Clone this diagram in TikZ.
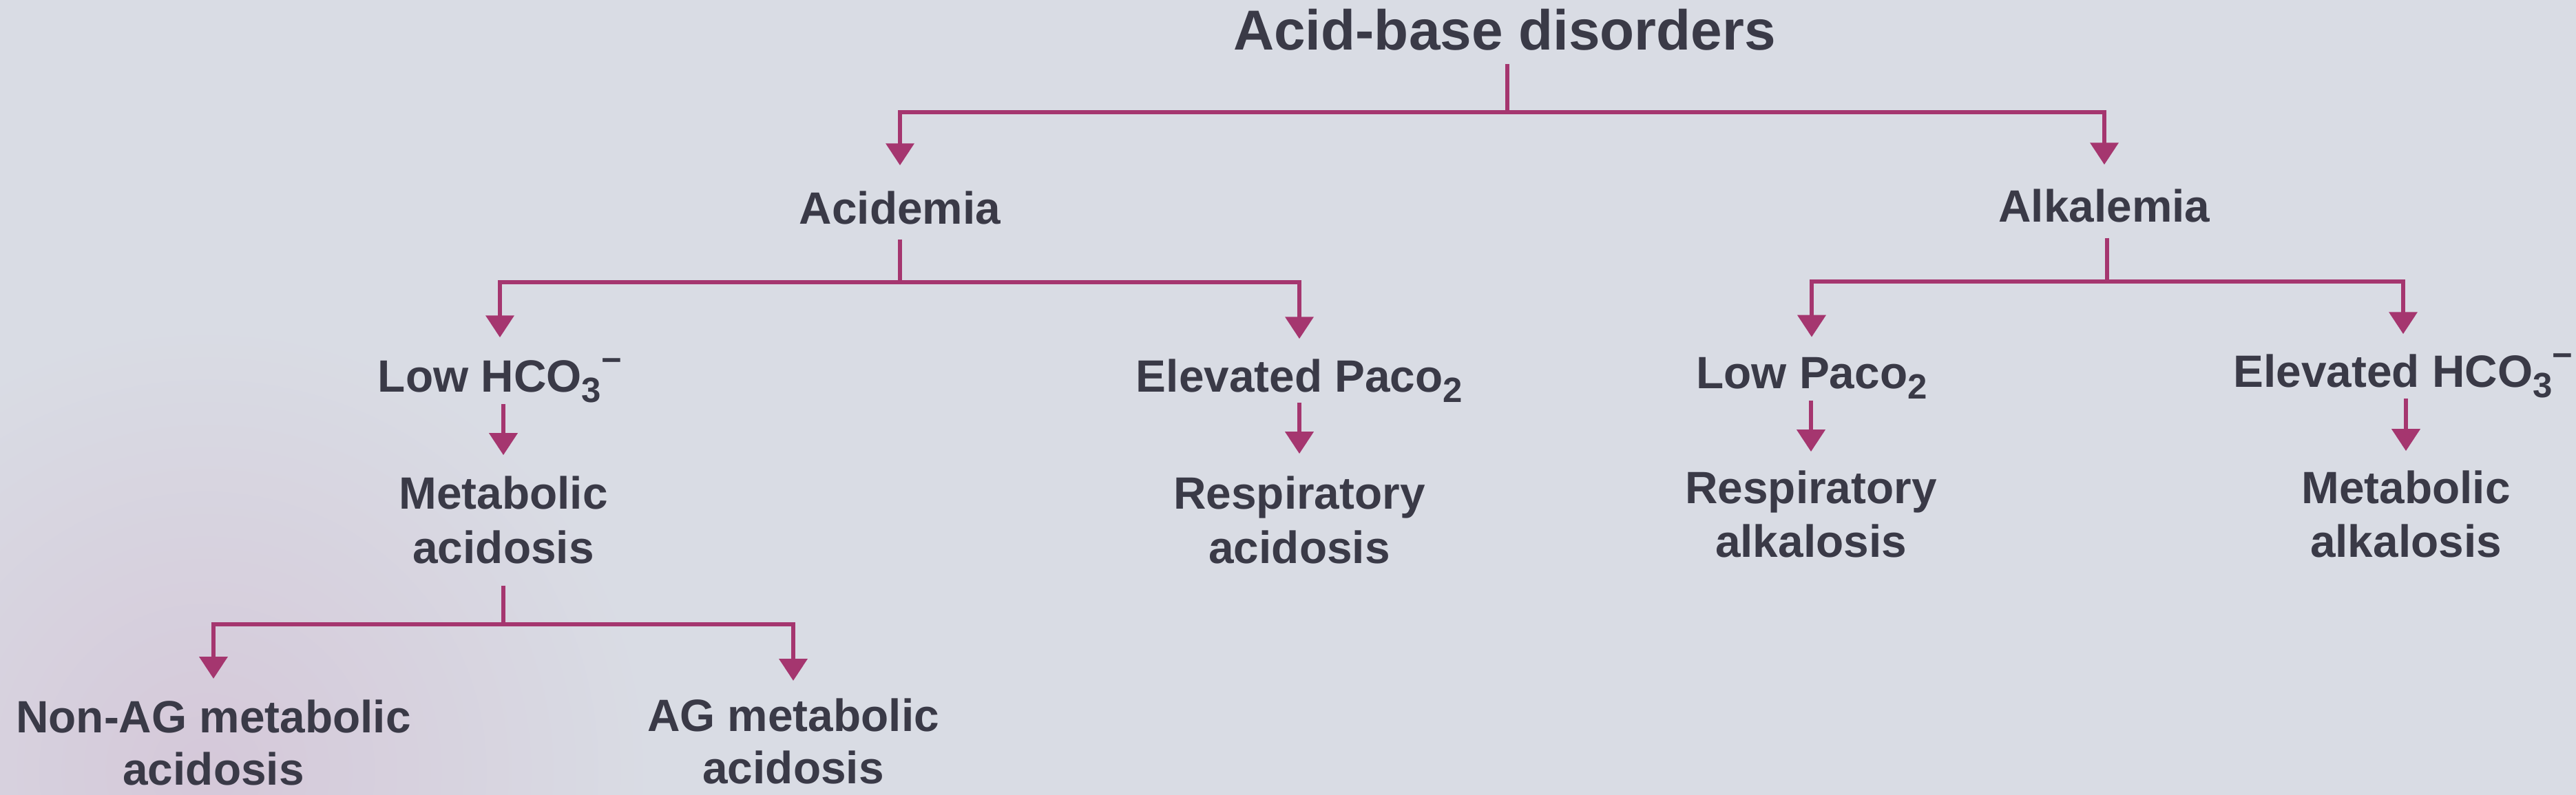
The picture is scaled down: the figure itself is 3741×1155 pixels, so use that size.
\documentclass[tikz,border=0pt]{standalone}
\usepackage{fontspec}
\setmainfont{Liberation Sans}
\usetikzlibrary{arrows.meta}
\definecolor{bg}{HTML}{D9DCE4}
\definecolor{bgpink}{HTML}{D5C8D9}
\definecolor{ink}{HTML}{3A3A47}
\definecolor{conncol}{HTML}{A5366F}
\newcommand\mysub[1]{\raisebox{-4.2pt}{\fontsize{14.5pt}{14.5pt}\selectfont #1}}
\newcommand\mysup[1]{\raisebox{8.5pt}{\fontsize{14.5pt}{14.5pt}\selectfont #1}}
\begin{document}
\begin{tikzpicture}[x=0.01cm,y=-0.01cm,
  lbl/.style={anchor=base, inner sep=0pt, outer sep=0pt, align=center, text=ink,
              font=\fontsize{18.7pt}{22.2pt}\selectfont\bfseries},
  ttl/.style={lbl, font=\fontsize{23.3pt}{28pt}\selectfont\bfseries},
  link/.style={draw=conncol, line width=0.068cm,
               -{Triangle[length=0.32cm,width=0.40cm]}},
  ]
\useasboundingbox (0,0) rectangle (3741,1155);
% background
\fill[bg] (0,0) rectangle (3741,1155);
\begin{scope}
\clip (0,0) rectangle (3741,1155);
\shade[inner color=bgpink, outer color=bg] (300,1120) circle (650);
\end{scope}

% nodes (multi-line nodes are placed by the baseline of their last line)
\node[ttl] (title) at (2185,73) {Acid-base disorders};
\node[lbl] (acidemia) at (1307,326) {Acidemia};
\node[lbl] (alkalemia) at (3056,323) {Alkalemia};
\node[lbl] (lowhco) at (726,570) {Low HCO\mysub{3}\mysup{−}};
\node[lbl] (elevpaco) at (1887,570) {Elevated Paco\mysub{2}};
\node[lbl] (lowpaco) at (2631,565) {Low Paco\mysub{2}};
\node[lbl] (elevhco) at (3490,563) {Elevated HCO\mysub{3}\mysup{−}};
\node[lbl] (metacid) at (731,818) {Metabolic\\acidosis};
\node[lbl] (respacid) at (1887,818) {Respiratory\\acidosis};
\node[lbl] (respalk) at (2630,810) {Respiratory\\alkalosis};
\node[lbl] (metalk) at (3494,810) {Metabolic\\alkalosis};
\node[lbl, font=\fontsize{18.7pt}{21.4pt}\selectfont\bfseries] (nonag) at (310,1140) {Non-AG metabolic\\acidosis};
\node[lbl, font=\fontsize{18.7pt}{21.4pt}\selectfont\bfseries] (agmet) at (1152,1138) {AG metabolic\\acidosis};

% junctions
\coordinate (j1) at (2189,163);
\coordinate (j2) at (1307,410);
\coordinate (j3) at (3060,409);
\coordinate (j4) at (731,907);

% connectors
\draw[link, shorten <=0.19cm, shorten >=0.38cm] (j1 |- title.south) -- (j1) -| (acidemia.north);
\draw[link, shorten >=0.36cm] (j1) -| (alkalemia.north);

\draw[link, shorten <=0.21cm, shorten >=0.30cm] (acidemia.south) -- (j2) -| (lowhco.north);
\draw[link, shorten >=0.30cm] (j2) -| (elevpaco.north);

\draw[link, shorten <=0.22cm, shorten >=0.30cm] (alkalemia.south -| j3) -- (j3) -| (lowpaco.north);
\draw[link, shorten >=0.28cm] (j3) -| (elevhco.north);

\draw[link, shorten <=0.02cm, shorten >=0.31cm] (metacid.north |- lowhco.south) -- (metacid.north);
\draw[link, shorten <=0.0cm, shorten >=0.33cm] (respacid.north |- elevpaco.south) -- (respacid.north);
\draw[link, shorten <=0.02cm, shorten >=0.28cm] (respalk.north |- lowpaco.south) -- (respalk.north);
\draw[link, shorten <=0.01cm, shorten >=0.29cm] (metalk.north |- elevhco.south) -- (metalk.north);

\draw[link, shorten <=0.32cm, shorten >=0.31cm] (metacid.south) -- (j4) -| (nonag.north);
\draw[link, shorten >=0.26cm] (j4) -| (agmet.north);
\end{tikzpicture}
\end{document}
